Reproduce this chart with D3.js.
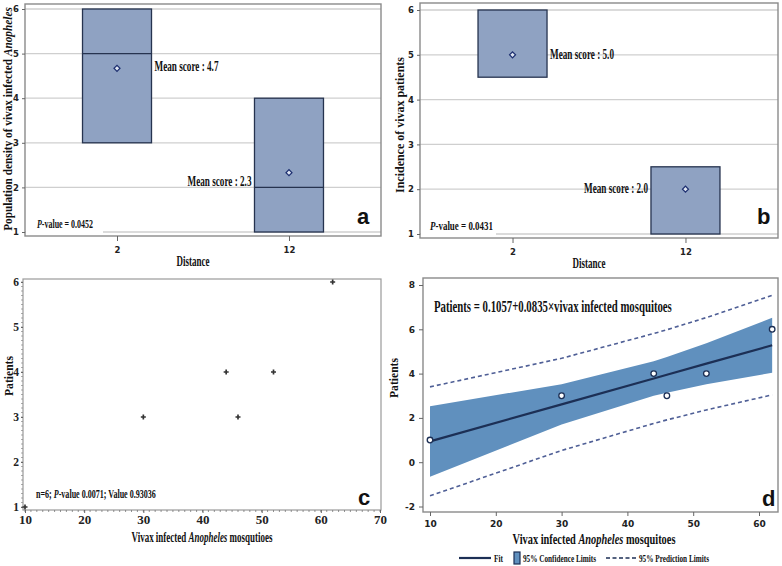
<!DOCTYPE html>
<html><head><meta charset="utf-8">
<script src="https://cdn.jsdelivr.net/npm/d3@7"></script>
<style>
body{margin:0;background:#fff;}
svg{display:block;}
.serif{font-family:"Liberation Serif","Times New Roman",serif;font-weight:bold;}
.sans{font-family:"DejaVu Sans",Arial,sans-serif;font-weight:bold;}
.lab{font-family:"Liberation Sans",Arial,sans-serif;font-weight:bold;}
</style></head>
<body>
<svg id="c" width="782" height="566"></svg>
<script>
// ---------- data ----------
const distances = ["2", "12"];
const densityQ1 = [3, 1];
const densityMedian = [5, 2];
const densityQ3 = [6, 4];
const densityMean = [4.67, 2.33];
const densityMeanLabels = ["Mean score : 4.7", "Mean score : 2.3"];
const densityP = "0.0452";

const incidenceQ1 = [4.5, 1];
const incidenceQ3 = [6, 2.5];
const incidenceMean = [5.0, 2.0];
const incidenceMeanLabels = ["Mean score : 5.0", "Mean score : 2.0"];
const incidenceP = "0.0431";

const boxTicks = [1, 2, 3, 4, 5, 6];

const mosquitoes = [10, 30, 44, 46, 52, 62];
const patients = [1, 3, 4, 3, 4, 6];
const scatterXTicks = [10, 20, 30, 40, 50, 60, 70];
const scatterYTicks = [1, 2, 3, 4, 5, 6];

const fitX = [10, 30, 44, 46, 52, 62];
const fitY = [0.94, 2.61, 3.78, 3.95, 4.45, 5.28];
const clLower = [-0.66, 1.70, 3.00, 3.14, 3.52, 4.04];
const clUpper = [2.53, 3.52, 4.56, 4.75, 5.37, 6.52];
const plLower = [-1.52, 0.53, 1.75, 1.91, 2.36, 3.04];
const plUpper = [3.40, 4.69, 5.81, 5.98, 6.53, 7.53];
const regXTicks = [10, 20, 30, 40, 50, 60];
const regYTicks = [-2, 0, 2, 4, 6, 8];

// ---------- styles ----------
const FRAME = "#8a8a8a";
const GRID = "#cfcfcf";
const BOXFILL = "#8fa2c2";
const BOXSTROKE = "#26334f";
const NAVY = "#1c2f55";
const BAND = "#6090be";
const DASH = "#4f5f96";

const svg = d3.select("#c");
svg.append("rect").attr("width", 782).attr("height", 566).attr("fill", "#fff");

// text helper: condensed by horizontal scaling to a target width
function txt(g, x, y, s, cls, size, opts = {}) {
  const w = g.append("g");
  const t = w.append("text").attr("x", 0).attr("y", 0).attr("class", cls)
    .style("font-size", size + "px").attr("fill", opts.fill || "#111")
    .attr("text-anchor", opts.anchor || "start");
  if (opts.parts) {
    opts.parts.forEach(p => t.append("tspan").text(p[0]).style("font-style", p[1] ? "italic" : "normal"));
  } else t.text(s);
  let k = 1;
  if (opts.len) {
    const nat = t.node().getComputedTextLength();
    if (nat > 0) k = opts.len / nat;
  }
  let tr = `translate(${x},${y})`;
  if (opts.rotate) tr += ` rotate(${opts.rotate})`;
  tr += ` scale(${k},1)`;
  w.attr("transform", tr);
  return t;
}

// ---------- box panels (a, b) ----------
function boxPanel(cfg) {
  const g = svg.append("g");
  const { x0, x1, y0, y1 } = cfg.frame;
  const y = d3.scaleLinear().domain([1, 6]).range(cfg.yRange);
  const x = d3.scalePoint().domain(distances).range([x0, x1]).padding(0.535);
  g.selectAll(".grid").data(boxTicks).join("line")
    .attr("x1", x0).attr("x2", x1).attr("y1", d => y(d)).attr("y2", d => y(d))
    .attr("stroke", GRID).attr("stroke-width", 1.3);
  const bw = 69;
  distances.forEach((d, i) => {
    g.append("rect").attr("x", x(d) - bw / 2).attr("width", bw)
      .attr("y", y(cfg.q3[i])).attr("height", y(cfg.q1[i]) - y(cfg.q3[i]))
      .attr("fill", BOXFILL).attr("stroke", BOXSTROKE).attr("stroke-width", 1.3);
    if (cfg.median) {
      g.append("line").attr("x1", x(d) - bw / 2).attr("x2", x(d) + bw / 2)
        .attr("y1", y(cfg.median[i])).attr("y2", y(cfg.median[i]))
        .attr("stroke", BOXSTROKE).attr("stroke-width", 1.3);
    }
    g.append("path").attr("d", d3.symbol(d3.symbolSquare, 18)())
      .attr("transform", `translate(${x(d)},${y(cfg.mean[i])}) rotate(45)`)
      .attr("fill", "#dfe6f2").attr("stroke", "#1d2f70").attr("stroke-width", 1.2);
  });
  txt(g, x(distances[0]) + bw / 2 + 3, y(cfg.mean[0]) + cfg.lab0dy, cfg.labels[0], "serif", 14, { len: 64 });
  txt(g, x(distances[1]) - bw / 2 - 3, y(cfg.mean[1]) + cfg.lab1dy, cfg.labels[1], "serif", 14, { anchor: "end", len: 64 });
  g.append("rect").attr("x", x0 + 1).attr("y", y(1) - 12).attr("width", cfg.pBoxW).attr("height", 14).attr("fill", "#fff");
  txt(g, x0 + cfg.pdx, y(1) - 4, null, "serif", 12, { parts: [["P", true], ["-value = " + cfg.p, false]], len: cfg.pLen });
  g.append("rect").attr("x", x0).attr("y", y0).attr("width", x1 - x0).attr("height", y1 - y0)
    .attr("fill", "none").attr("stroke", FRAME).attr("stroke-width", 1.4);
  const ay = g.append("g").attr("transform", `translate(${x0},0)`)
    .call(d3.axisLeft(y).tickValues(boxTicks).tickFormat(d3.format("d")).tickSize(3).tickPadding(3));
  ay.select(".domain").remove();
  ay.selectAll("line").attr("stroke", "#666");
  ay.selectAll("text").attr("class", "sans").style("font-size", "8.5px").attr("fill", "#222");
  const ax = g.append("g").attr("transform", `translate(0,${y1})`)
    .call(d3.axisBottom(x).tickSize(5).tickPadding(6));
  ax.select(".domain").remove();
  ax.selectAll("line").attr("stroke", "#666");
  ax.selectAll("text").attr("class", "sans").style("font-size", "8.5px").attr("fill", "#222");
  txt(g, cfg.xtX, cfg.xtY, "Distance", "serif", 15, { anchor: "middle", len: 33 });
  txt(g, cfg.ytX, cfg.ytY, null, "serif", 13.5, { anchor: "middle", rotate: -90, parts: cfg.ytParts, len: cfg.ytLen });
  txt(g, cfg.letX, cfg.letY, cfg.letter, "lab", 22);
}

boxPanel({
  frame: { x0: 25, x1: 381, y0: 4, y1: 236 }, yRange: [232, 9],
  q1: densityQ1, q3: densityQ3, median: densityMedian, mean: densityMean,
  labels: densityMeanLabels, lab0dy: 3, lab1dy: 13, p: densityP, pdx: 12, pLen: 56, pBoxW: 77,
  xtX: 193, xtY: 266, ytX: 12, ytY: 119, ytLen: 224,
  ytParts: [["Population density of vivax infected ", false], ["Anopheles", true]],
  letter: "a", letX: 357, letY: 224
});
boxPanel({
  frame: { x0: 420, x1: 778, y0: 3, y1: 238 }, yRange: [234, 10],
  q1: incidenceQ1, q3: incidenceQ3, median: null, mean: incidenceMean,
  labels: incidenceMeanLabels, lab0dy: 4, lab1dy: 4, p: incidenceP, pdx: 10, pLen: 63, pBoxW: 75,
  xtX: 589, xtY: 268, ytX: 404, ytY: 125, ytLen: 136,
  ytParts: [["Incidence of vivax patients", false]],
  letter: "b", letX: 757, letY: 224
});

// ---------- scatter panel (c) ----------
(function () {
  const g = svg.append("g");
  const x0 = 23, x1 = 381, y0 = 279, y1 = 510;
  const x = d3.scaleLinear().domain([10, 70]).range([25, 380]);
  const y = d3.scaleLinear().domain([1, 6]).range([507, 282]);
  g.append("rect").attr("x", x0).attr("y", y0).attr("width", x1 - x0).attr("height", y1 - y0)
    .attr("fill", "none").attr("stroke", "#9a9a9a").attr("stroke-width", 1.2);
  g.selectAll(".mx").data(d3.range(10, 70.01, 1)).join("line")
    .attr("x1", d => x(d)).attr("x2", d => x(d)).attr("y1", y1).attr("y2", y1 + 2)
    .attr("stroke", "#777").attr("stroke-width", 0.8);
  g.selectAll(".my").data(d3.range(1, 6.001, 0.1)).join("line")
    .attr("x1", x0 - 2).attr("x2", x0).attr("y1", d => y(d)).attr("y2", d => y(d))
    .attr("stroke", "#888").attr("stroke-width", 0.7);
  const ax = g.append("g").attr("transform", `translate(0,${y1})`)
    .call(d3.axisBottom(x).tickValues(scatterXTicks).tickFormat(d3.format("d")).tickSize(3).tickPadding(2));
  ax.select(".domain").remove();
  ax.selectAll("line").attr("stroke", "#666");
  ax.selectAll("text").attr("class", "serif").style("font-size", "13px").attr("fill", "#222");
  const ay = g.append("g").attr("transform", `translate(${x0},0)`)
    .call(d3.axisLeft(y).tickValues(scatterYTicks).tickFormat(d3.format("d")).tickSize(2).tickPadding(2));
  ay.select(".domain").remove();
  ay.selectAll("line").attr("stroke", "#666");
  ay.selectAll("text").attr("class", "serif").style("font-size", "11.5px").attr("fill", "#222");
  g.selectAll(".pt").data(mosquitoes).join("path")
    .attr("d", d3.symbol(d3.symbolCross, 14)())
    .attr("transform", (d, i) => `translate(${x(d)},${y(patients[i])})`)
    .attr("fill", "#333");
  txt(g, 36, 498, null, "serif", 12, { parts: [["n=6; ", false], ["P", true], ["-value 0.0071; Value 0.93036", false]], len: 120 });
  txt(g, 202, 542, null, "serif", 14, { anchor: "middle", parts: [["Vivax infected ", false], ["Anopheles", true], [" mosqutioes", false]], len: 141 });
  txt(g, 12.5, 376, "Patients", "serif", 13, { anchor: "middle", rotate: -90, len: 40 });
  txt(g, 358, 505, "c", "lab", 22);
})();

// ---------- regression panel (d) ----------
(function () {
  const g = svg.append("g");
  const x0 = 423, x1 = 778, y0 = 278, y1 = 512;
  const x = d3.scaleLinear().domain([10, 60]).range([430, 759]);
  const y = d3.scaleLinear().domain([-2, 8]).range([506.5, 285]);
  const idx = d3.range(fitX.length);
  g.append("path").datum(idx)
    .attr("d", d3.area().x(i => x(fitX[i])).y0(i => y(clLower[i])).y1(i => y(clUpper[i])))
    .attr("fill", BAND);
  [plLower, plUpper].forEach(arr => {
    g.append("path").datum(idx)
      .attr("d", d3.line().x(i => x(fitX[i])).y(i => y(arr[i])))
      .attr("fill", "none").attr("stroke", DASH).attr("stroke-width", 1.6).attr("stroke-dasharray", "4,3");
  });
  g.append("path").datum(idx)
    .attr("d", d3.line().x(i => x(fitX[i])).y(i => y(fitY[i])))
    .attr("fill", "none").attr("stroke", NAVY).attr("stroke-width", 2.2);
  g.selectAll(".pt").data(mosquitoes).join("circle")
    .attr("cx", d => x(d)).attr("cy", (d, i) => y(patients[i])).attr("r", 2.8)
    .attr("fill", "#fff").attr("stroke", NAVY).attr("stroke-width", 1.3);
  g.append("rect").attr("x", x0).attr("y", y0).attr("width", x1 - x0).attr("height", y1 - y0)
    .attr("fill", "none").attr("stroke", FRAME).attr("stroke-width", 1.4);
  const ax = g.append("g").attr("transform", `translate(0,${y1})`)
    .call(d3.axisBottom(x).tickValues(regXTicks).tickFormat(d3.format("d")).tickSize(4).tickPadding(5));
  ax.select(".domain").remove();
  ax.selectAll("line").attr("stroke", "#666");
  ax.selectAll("text").attr("class", "sans").style("font-size", "9px").attr("fill", "#222");
  const ay = g.append("g").attr("transform", `translate(${x0},0)`)
    .call(d3.axisLeft(y).tickValues(regYTicks).tickFormat(d => d < 0 ? "-" + Math.abs(d) : d).tickSize(4).tickPadding(4));
  ay.select(".domain").remove();
  ay.selectAll("line").attr("stroke", "#666");
  ay.selectAll("text").attr("class", "sans").style("font-size", "9px").attr("fill", "#222");
  txt(g, 434, 312, "Patients = 0.1057+0.0835×vivax infected mosquitoes", "serif", 16.5, { len: 238 });
  txt(g, 594, 544, null, "serif", 14, { anchor: "middle", parts: [["Vivax infected ", false], ["Anopheles", true], [" mosquitoes", false]], len: 163 });
  txt(g, 398, 378, "Patients", "serif", 13.5, { anchor: "middle", rotate: -90, len: 40 });
  txt(g, 762, 506, "d", "lab", 22);
  const ly = 558;
  g.append("line").attr("x1", 459).attr("x2", 491).attr("y1", ly).attr("y2", ly).attr("stroke", NAVY).attr("stroke-width", 2.2);
  txt(g, 494, ly + 4, "Fit", "serif", 11, { len: 9 });
  g.append("rect").attr("x", 514).attr("y", ly - 6).attr("width", 6).attr("height", 12)
    .attr("fill", BAND).attr("stroke", NAVY).attr("stroke-width", 1.2);
  txt(g, 523, ly + 4, "95% Confidence Limits", "serif", 11, { len: 73 });
  g.append("line").attr("x1", 606).attr("x2", 636).attr("y1", ly).attr("y2", ly)
    .attr("stroke", NAVY).attr("stroke-width", 1.6).attr("stroke-dasharray", "4,2.5");
  txt(g, 639, ly + 4, "95% Prediction Limits", "serif", 11, { len: 70 });
})();
</script>
</body></html>
